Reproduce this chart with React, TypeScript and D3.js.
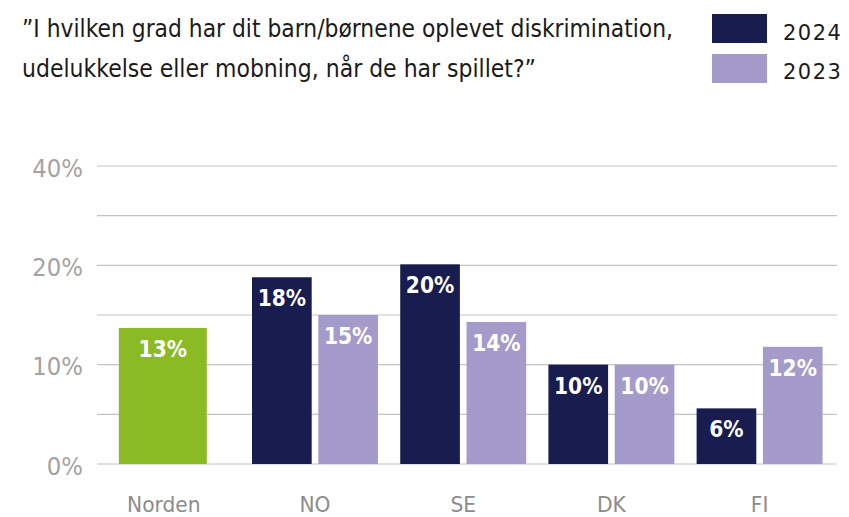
import React from "react";
import * as d3 from "d3";

const titleLines = [
  "\u201DI hvilken grad har dit barn/børnene oplevet diskrimination,",
  "udelukkelse eller mobning, når de har spillet?\u201D",
];
const titleWidths = [651, 514];
const categories = ["Norden", "NO", "SE", "DK", "FI"];
const series = ["2024", "2023"];
const values2024 = [13.7, 18.8, 20.1, 10.0, 5.6];
const values2023: (number | null)[] = [null, 15.0, 14.3, 10.0, 11.8];
const labels2024 = ["13%", "18%", "20%", "10%", "6%"];
const labels2023: (string | null)[] = [null, "15%", "14%", "10%", "12%"];
const gridValues = [0, 5, 10, 15, 20, 25, 30];
const tickValues = [0, 10, 20, 30];
const tickLabels = ["0%", "10%", "20%", "40%"];

const W = 849;
const H = 517;
const COL_2024 = "#181c4f";
const COL_2023 = "#a59bcb";
const COL_TOTAL = "#8aba24";
const FONT = "'DejaVu Sans', sans-serif";

export default function App() {
  const y = d3.scaleLinear().domain([0, 30]).range([464, 166]);
  const x = d3
    .scaleBand<string>()
    .domain(categories)
    .range([92.7, 833.7])
    .paddingInner(0.15)
    .paddingOuter(0.075);
  const xs = d3
    .scaleBand<string>()
    .domain(series)
    .range([0, x.bandwidth()])
    .paddingInner(0.1);
  const totalWidth = 88;

  const bars: any[] = [];
  categories.forEach((c, i) => {
    if (values2023[i] == null) {
      const cx = (x(c) as number) + x.bandwidth() / 2 - 4;
      bars.push({ key: c, x: cx - totalWidth / 2, w: totalWidth, v: values2024[i], label: labels2024[i], color: COL_TOTAL });
    } else {
      bars.push({ key: c + "a", x: (x(c) as number) + (xs("2024") as number), w: xs.bandwidth(), v: values2024[i], label: labels2024[i], color: COL_2024 });
      bars.push({ key: c + "b", x: (x(c) as number) + (xs("2023") as number), w: xs.bandwidth(), v: values2023[i], label: labels2023[i], color: COL_2023 });
    }
  });

  return (
    <svg width={W} height={H} style={{ position: "absolute", left: 0, top: 0, background: "#fff" }} fontFamily={FONT}>
      {titleLines.map((t, i) => (
        <text key={i} x={22} y={37 + i * 40} fontSize={25.5} textLength={titleWidths[i]} lengthAdjust="spacingAndGlyphs" fill="#1a1a1a">{t}</text>
      ))}
      {series.map((s, i) => (
        <g key={s}>
          <rect x={712} y={14 + i * 40} width={55} height={29} fill={i === 0 ? COL_2024 : COL_2023} />
          <text x={783} y={39.5 + i * 39} fontSize={21} letterSpacing={1.5} fill="#1a1a1a">{s}</text>
        </g>
      ))}
      {gridValues.map((g) => (
        <line key={g} x1={97} x2={837} y1={y(g)} y2={y(g)} stroke="#c4c4c4" strokeWidth={1.2} />
      ))}
      {tickValues.map((t, i) => (
        <text key={t} transform={`translate(83,${y(t) + 10.5}) scale(0.95,1)`} textAnchor="end" fontSize={24} fill="#a3a3a3">{tickLabels[i]}</text>
      ))}
      {bars.map((b) => (
        <g key={b.key}>
          <rect x={b.x} y={y(b.v)} width={b.w} height={y(0) - y(b.v)} fill={b.color} />
          <text transform={`translate(${b.x + b.w / 2},${y(b.v) + 29}) scale(0.88,1)`} textAnchor="middle" fontSize={23} fontWeight="bold" fill="#fff">{b.label}</text>
        </g>
      ))}
      {categories.map((c) => (
        <text key={c} transform={`translate(${(x(c) as number) + x.bandwidth() / 2 - (c === "Norden" ? 3 : 0)},512) scale(0.92,1)`} textAnchor="middle" fontSize={22} fill="#8c8c8c">{c}</text>
      ))}
    </svg>
  );
}
